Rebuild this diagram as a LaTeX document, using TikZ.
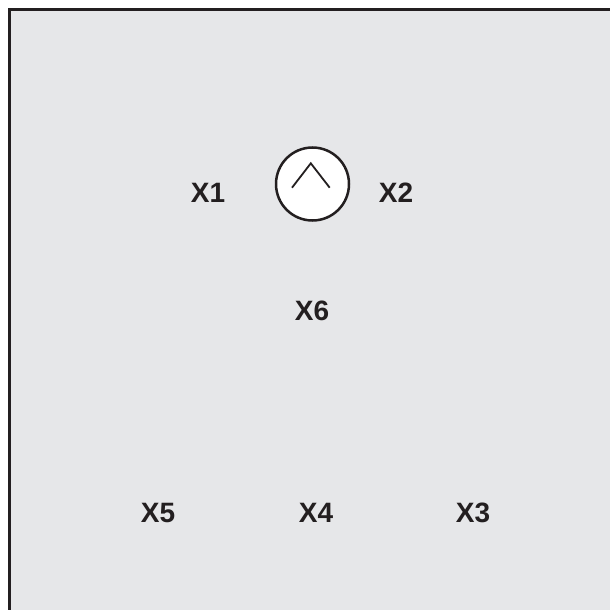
\documentclass[tikz,border=0pt]{standalone}
\usepackage{fontspec}
\setmainfont{Liberation Sans}
\definecolor{bg}{HTML}{E6E7E9}
\definecolor{ink}{HTML}{231F20}
\tikzset{
  lbl/.style={text=ink, font=\fontsize{28}{30}\selectfont\bfseries, inner sep=0pt, anchor=center},
  gate/.style={circle, draw=ink, fill=white, line width=2.5pt, minimum size=73pt, inner sep=0pt}
}
\begin{document}
\begin{tikzpicture}[x=1pt,y=-1pt]
\useasboundingbox (0,0) rectangle (610,610);
\clip (0,0) rectangle (610,610);
\draw[draw=ink, fill=bg, line width=3.5pt] (9.5,9.5) rectangle (630,630);
\node[gate] (g) at (312.5,184) {};
\coordinate (cl) at (292,187.7);
\coordinate (ct) at (310.8,163.3);
\coordinate (cr) at (329.7,187.7);
\draw[draw=ink, line width=1.8pt] (cl) -- (ct) -- (cr);
\node[lbl] (x1) at (208,193) {X1};
\node[lbl] (x2) at (396,193) {X2};
\node[lbl] (x6) at (312,311) {X6};
\node[lbl] (x5) at (158,513) {X5};
\node[lbl] (x4) at (316,513) {X4};
\node[lbl] (x3) at (473,513) {X3};
\end{tikzpicture}
\end{document}
